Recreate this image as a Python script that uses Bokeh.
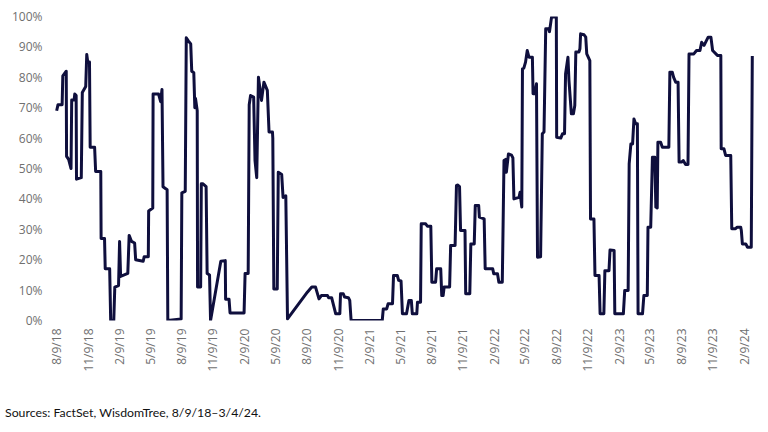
import math
import pandas as pd
from bokeh.plotting import figure
from bokeh.models import Range1d, FixedTicker, Div, ColumnDataSource, PrintfTickFormatter
from bokeh.layouts import column
from bokeh.embed import file_html
from bokeh.resources import INLINE

dates = [
    "2018-08-09", "2018-08-13", "2018-08-25", "2018-08-27", "2018-09-06", "2018-09-07",
    "2018-09-13", "2018-09-20", "2018-09-22", "2018-09-29", "2018-10-01", "2018-10-05",
    "2018-10-06", "2018-10-20", "2018-10-23", "2018-11-02", "2018-11-05", "2018-11-08",
    "2018-11-13", "2018-11-15", "2018-11-28", "2018-12-01", "2018-12-16", "2018-12-17",
    "2018-12-27", "2018-12-29", "2019-01-11", "2019-01-14", "2019-01-23", "2019-01-26",
    "2019-02-06", "2019-02-09", "2019-02-12", "2019-03-05", "2019-03-09", "2019-03-16",
    "2019-03-25", "2019-03-28", "2019-04-19", "2019-04-22", "2019-05-04", "2019-05-05",
    "2019-05-17", "2019-05-18", "2019-06-03", "2019-06-09", "2019-06-13", "2019-06-16",
    "2019-06-28", "2019-06-30", "2019-08-08", "2019-08-10", "2019-08-20", "2019-08-23",
    "2019-08-29", "2019-09-05", "2019-09-08", "2019-09-14", "2019-09-17", "2019-09-19",
    "2019-09-24", "2019-09-25", "2019-10-04", "2019-10-06", "2019-10-10", "2019-10-20",
    "2019-10-23", "2019-10-30", "2019-11-02", "2019-12-02", "2019-12-15", "2019-12-16",
    "2019-12-26", "2019-12-29", "2020-02-08", "2020-02-11", "2020-02-20", "2020-02-23",
    "2020-02-27", "2020-03-07", "2020-03-11", "2020-03-16", "2020-03-21", "2020-03-30",
    "2020-04-06", "2020-04-16", "2020-04-21", "2020-05-01", "2020-05-02", "2020-05-05",
    "2020-05-15", "2020-05-18", "2020-05-28", "2020-06-01", "2020-06-09", "2020-06-14",
    "2020-08-11", "2020-08-24", "2020-09-04", "2020-09-14", "2020-09-21", "2020-10-09",
    "2020-10-12", "2020-10-21", "2020-11-02", "2020-11-14", "2020-11-16", "2020-11-24",
    "2020-11-28", "2020-12-09", "2020-12-13", "2020-12-17", "2021-03-18", "2021-03-21",
    "2021-03-31", "2021-04-04", "2021-04-17", "2021-04-20", "2021-05-01", "2021-05-05",
    "2021-05-12", "2021-05-16", "2021-05-28", "2021-06-04", "2021-06-11", "2021-06-14",
    "2021-06-27", "2021-06-29", "2021-07-08", "2021-07-10", "2021-07-23", "2021-07-28",
    "2021-08-07", "2021-08-10", "2021-08-21", "2021-08-24", "2021-09-05", "2021-09-08",
    "2021-09-12", "2021-09-15", "2021-10-01", "2021-10-04", "2021-10-17", "2021-10-21",
    "2021-10-24", "2021-10-30", "2021-11-02", "2021-11-15", "2021-11-17", "2021-11-29",
    "2021-12-02", "2021-12-12", "2021-12-15", "2021-12-25", "2021-12-27", "2022-01-10",
    "2022-01-13", "2022-02-04", "2022-02-07", "2022-02-18", "2022-02-22", "2022-03-04",
    "2022-03-09", "2022-03-14", "2022-03-16", "2022-03-22", "2022-03-31", "2022-04-04",
    "2022-04-07", "2022-04-22", "2022-04-25", "2022-04-30", "2022-05-02", "2022-05-06",
    "2022-05-11", "2022-05-16", "2022-05-21", "2022-05-31", "2022-06-02", "2022-06-07",
    "2022-06-12", "2022-06-15", "2022-06-24", "2022-06-29", "2022-07-04", "2022-07-09",
    "2022-07-17", "2022-07-20", "2022-07-26", "2022-08-09", "2022-08-10", "2022-08-22",
    "2022-08-27", "2022-09-02", "2022-09-05", "2022-09-12", "2022-09-15", "2022-09-22",
    "2022-09-28", "2022-10-02", "2022-10-05", "2022-10-14", "2022-10-17", "2022-10-19",
    "2022-10-29", "2022-11-03", "2022-11-06", "2022-11-15", "2022-11-17", "2022-11-27",
    "2022-11-30", "2022-12-12", "2022-12-15", "2022-12-26", "2022-12-29", "2023-01-10",
    "2023-01-13", "2023-01-25", "2023-01-27", "2023-02-21", "2023-02-25", "2023-03-07",
    "2023-03-10", "2023-03-15", "2023-03-20", "2023-03-24", "2023-03-29", "2023-04-03",
    "2023-04-05", "2023-04-18", "2023-04-22", "2023-05-02", "2023-05-04", "2023-05-12",
    "2023-05-17", "2023-05-24", "2023-05-27", "2023-05-31", "2023-06-02", "2023-06-10",
    "2023-06-15", "2023-07-04", "2023-07-07", "2023-07-14", "2023-07-18", "2023-07-24",
    "2023-07-31", "2023-08-03", "2023-08-10", "2023-08-15", "2023-08-22", "2023-08-29",
    "2023-09-01", "2023-09-15", "2023-09-23", "2023-10-03", "2023-10-08", "2023-10-15",
    "2023-10-27", "2023-11-04", "2023-11-09", "2023-11-23", "2023-12-03", "2023-12-04",
    "2023-12-12", "2023-12-17", "2024-01-01", "2024-01-04", "2024-01-15", "2024-01-20",
    "2024-01-30", "2024-02-01", "2024-02-04", "2024-02-14", "2024-02-19", "2024-03-01",
    "2024-03-04",
]

share = [
    69, 71, 71, 80.5, 82, 54,
    53, 50, 72.5, 72.5, 74.5, 74,
    46.5, 47, 75, 77, 87.5, 85,
    85, 57, 57, 49, 49, 27,
    27, 17, 17, 0, 0, 11,
    11.5, 26, 14.5, 15.5, 28, 26,
    25.5, 20, 19.5, 21, 21, 36,
    37, 74.5, 74.5, 72, 76, 44,
    43, 0, 0.5, 42, 42.5, 93,
    92, 91, 82, 81.5, 70, 73,
    69, 11, 11, 45, 45, 44,
    15.5, 15, 0, 19.5, 19.7, 7,
    7, 2.5, 2.5, 15.5, 15.5, 71,
    74, 73.5, 52.6, 47, 80, 72.4,
    78.4, 75.7, 62, 62, 60, 10.4,
    10.4, 48.8, 48, 40.5, 41, 0.5,
    9.3, 11, 11, 7.1, 8.2, 8.2,
    7.5, 7.5, 2.2, 2.2, 8.8, 8.8,
    7.7, 7.5, 6.6, 0, 0, 3.8,
    3.8, 5.5, 5.5, 14.8, 14.8, 13.2,
    13, 2.2, 2.2, 6.6, 6.6, 2.2,
    2.2, 6, 6, 31.8, 31.8, 31,
    31, 12.6, 12.6, 17, 17, 8.2,
    8.2, 11, 11, 24.7, 24.7, 44.4,
    44.6, 44, 29.6, 29.6, 8.8, 8.8,
    25.2, 25.2, 37.8, 37.8, 34, 33.4,
    17, 17, 15.4, 15.4, 12.6, 12.6,
    52.6, 53, 48.8, 54.8, 54.4, 53.5,
    40, 40.5, 42.2, 37.3, 82.8, 83,
    85, 88.8, 86.6, 86.6, 74.6, 74.6,
    77.9, 20.8, 21, 61.4, 62, 96,
    96, 95, 99.8, 99.8, 60.3, 60,
    61.4, 61.4, 81.1, 86.6, 78.9, 68,
    68, 70.7, 88.3, 88.3, 89.4, 94.3,
    94, 93.2, 87.7, 85.5, 33.4, 33.4,
    14.8, 14.8, 2.2, 2.2, 16.4, 16.4,
    23.2, 23, 2.2, 2.2, 9.9, 9.9,
    51.5, 58.1, 58.1, 66.3, 64.7, 64.7,
    2.2, 2.2, 8.2, 8.2, 30.7, 30.7,
    53.7, 53.7, 37.3, 37, 58.6, 58.6,
    57, 57, 81.7, 81.7, 80, 78.4,
    78.4, 52.1, 52.1, 52.6, 51.3, 51.3,
    87.7, 87.7, 88.8, 88.8, 91.5, 90.5,
    93.2, 93.2, 88.8, 87.2, 87.2, 56.5,
    56.5, 54.3, 54.3, 30.2, 30.2, 30.7,
    30.7, 29.6, 25.2, 25.2, 24.1, 24.1,
    87,
]

tick_dates = [
    "2018-08-09", "2018-11-09", "2019-02-09", "2019-05-09", "2019-08-09", "2019-11-09",
    "2020-02-09", "2020-05-09", "2020-08-09", "2020-11-09", "2021-02-09", "2021-05-09",
    "2021-08-09", "2021-11-09", "2022-02-09", "2022-05-09", "2022-08-09", "2022-11-09",
    "2023-02-09", "2023-05-09", "2023-08-09", "2023-11-09", "2024-02-09",
]
tick_labels = [
    "8/9/18", "11/9/18", "2/9/19", "5/9/19", "8/9/19", "11/9/19",
    "2/9/20", "5/9/20", "8/9/20", "11/9/20", "2/9/21", "5/9/21",
    "8/9/21", "11/9/21", "2/9/22", "5/9/22", "8/9/22", "11/9/22",
    "2/9/23", "5/9/23", "8/9/23", "11/9/23", "2/9/24",
]
y_ticks = [0, 10, 20, 30, 40, 50, 60, 70, 80, 90, 100]
source_text = "Sources: FactSet, WisdomTree, 8/9/18\u20133/4/24."


def ms(d):
    return int(pd.Timestamp(d).value // 10**6)


src = ColumnDataSource(dict(x=pd.to_datetime(dates), y=share))

FONT = "Open Sans"
GREY = "#707070"

p = figure(
    x_axis_type="datetime",
    frame_width=710, frame_height=304,
    x_range=Range1d(ms("2018-07-22"), ms("2024-03-28")),
    y_range=Range1d(0, 100),
    output_backend="svg", toolbar_location=None,
    min_border_left=50, min_border_right=8, min_border_top=16, min_border_bottom=62,
)
p.line("x", "y", source=src, line_color="#0f0f3d", line_width=3, line_join="round")

p.xgrid.visible = False
p.ygrid.visible = False
p.outline_line_color = None
p.background_fill_color = "white"
p.border_fill_color = "white"

tick_ms = [ms(d) for d in tick_dates]
p.xaxis.ticker = FixedTicker(ticks=tick_ms, minor_ticks=[])
p.xaxis.major_label_overrides = {t: lab for t, lab in zip(tick_ms, tick_labels)}
p.xaxis.major_label_orientation = math.pi / 2
p.yaxis.ticker = FixedTicker(ticks=y_ticks, minor_ticks=[])
p.yaxis.formatter = PrintfTickFormatter(format="%d%%")

for ax in (p.xaxis[0], p.yaxis[0]):
    ax.axis_line_color = None
    ax.major_tick_line_color = None
    ax.minor_tick_line_color = None
    ax.major_tick_out = 0
    ax.major_tick_in = 0
    ax.major_label_text_font = FONT
    ax.major_label_text_font_size = "12px"
    ax.major_label_text_color = GREY
p.xaxis.major_label_standoff = 8
p.yaxis.major_label_standoff = 8

note = Div(
    text=source_text,
    styles={"font-family": "Lato", "font-size": "12.3px", "color": "#111111", "white-space": "nowrap"},
    margin=(22, 0, 0, 5),
)

layout = column(p, note)
open("out.html", "w").write(file_html(layout, INLINE))
